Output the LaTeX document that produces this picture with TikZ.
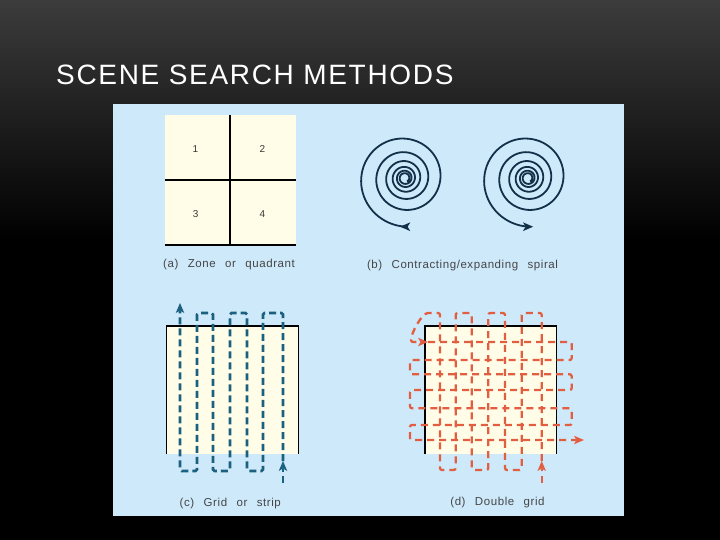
\documentclass[tikz,border=0pt]{standalone}
\usepackage{fontspec}
\setmainfont{Liberation Sans}
\newfontfamily\titlefont[LetterSpace=6]{Liberation Sans}
\newfontfamily\capfont[LetterSpace=5,WordSpace=2.5]{Liberation Sans}
\usetikzlibrary{arrows.meta}
\definecolor{panelblue}{RGB}{205,233,250}
\definecolor{cream}{RGB}{255,253,231}
\definecolor{stripblue}{RGB}{28,96,128}
\definecolor{spiralblue}{RGB}{18,48,72}
\definecolor{gridred}{RGB}{226,94,64}
\definecolor{captext}{RGB}{70,70,70}
\newcommand{\spr}{49*exp(0.0011816*(\x-2436))}
\tikzset{
  caption/.style={font=\capfont\fontsize{11.5}{13}\selectfont, text=captext, anchor=base, inner sep=0pt},
  zonenum/.style={font=\fontsize{10}{12}\selectfont, text=captext!80!black, inner sep=0pt},
  edgeline/.style={black, line width=1.1pt},
  stripline/.style={stripblue, line width=2.6pt, dash pattern=on 7pt off 4pt, rounded corners=1.5pt},
  dgridline/.style={gridred, line width=2.3pt, dash pattern=on 7pt off 5pt, rounded corners=2pt},
  spiralline/.style={spiralblue, line width=1.8pt},
  tipstrip/.style={-{Stealth[length=10pt,width=8.5pt,inset=2.5pt,line width=0pt]}},
}

\begin{document}
\begin{tikzpicture}[x=1pt,y=-1pt]
    \useasboundingbox (0,0) rectangle (720,540);
    \fill[black] (0,0) rectangle (720,540);
    \shade[top color={rgb,255:red,60;green,60;blue,60}, bottom color=black] (0,0) rectangle (720,240);
    \node[anchor=base west, inner sep=0pt, text=white, font=\titlefont\fontsize{28}{32}\selectfont] (title) at (56,85) {SCENE SEARCH METHODS};

    \fill[panelblue] (113,104) rectangle (624,516);

    % (a)
    \fill[cream] (165,115) rectangle (296,245);
    \draw[edgeline] (230,115) -- (230,245);
    \draw[edgeline] (165,180) -- (296,180);
    \draw[edgeline] (165,245) -- (296,245);
    \node[zonenum] (q1) at (195.5,149.5) {1};
    \node[zonenum] (q2) at (262.3,149.5) {2};
    \node[zonenum] (q3) at (195.7,213.8) {3};
    \node[zonenum] (q4) at (262.3,213.8) {4};
    \node[caption] (capa) at (229,267.5) {(a) Zone or quadrant};

    % (b)
    \draw[spiralline,-{Stealth[reversed,length=10pt,width=8.5pt,inset=2.5pt]}]
      plot[domain=300:2436,samples=420] ({405+\spr*cos(\x)},{178-\spr*sin(\x)});
    \draw[spiralline,-{Stealth[length=10pt,width=8.5pt,inset=2.5pt]}]
      plot[domain=300:2436,samples=420] ({528+\spr*cos(\x)},{178-\spr*sin(\x)});
    \node[caption] (capb) at (462.5,268) {(b) Contracting/expanding spiral};

    % (c)
    \fill[cream] (166.7,326) rectangle (298.7,454.3);
    \draw[edgeline] (166.7,454.3) -- (166.7,326) -- (298.7,326) -- (298.7,454.3);
    \draw[stripline,tipstrip] (283,483) -- (283,461);
    \draw[stripline,tipstrip] (283,461) -- (283,313) -- (263,313) -- (263,471) -- (247,471)
      -- (247,313) -- (230,313) -- (230,471) -- (213,471) -- (213,313) -- (197,313)
      -- (197,471) -- (180,471) -- (180,303);
    \node[caption] (capc) at (230.3,506) {(c) Grid or strip};

    % (d)
    \fill[cream] (425,326) rectangle (556.3,454);
    \draw[edgeline] (425,454) -- (425,326) -- (556.3,326) -- (556.3,454);
    \draw[dgridline,tipstrip] (541.7,483) -- (541.7,461);
    \draw[dgridline,tipstrip] (541.7,461) -- (541.7,313) -- (521.7,313) -- (521.7,470) -- (505,470)
      -- (505,313) -- (488.3,313) -- (488.3,470) -- (471.7,470) -- (471.7,313) -- (455.7,313)
      -- (455.7,470) -- (440,470) -- (440,313) -- (430,313)
      .. controls (422,313) and (411,333) .. (411,342) -- (428,342);
    \draw[dgridline,tipstrip] (428,342) -- (571.7,342) -- (571.7,360) -- (410,360) -- (410,374.3)
      -- (571.7,374.3) -- (571.7,390) -- (410,390) -- (410,408.3) -- (571.7,408.3)
      -- (571.7,425) -- (410,425) -- (410,440) -- (584,440);
    \node[caption] (capd) at (497.5,505.5) {(d) Double grid};
\end{tikzpicture}
\end{document}
